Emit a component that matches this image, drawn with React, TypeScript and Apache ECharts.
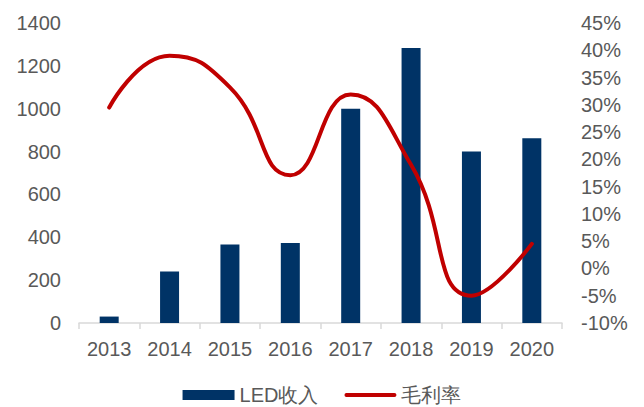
import React, { useEffect, useRef } from "react";
import * as echarts from "echarts";

const years = ["2013", "2014", "2015", "2016", "2017", "2018", "2019", "2020"];
const ledRevenue = [30, 240, 366, 373, 1000, 1283, 800, 862];
const grossMargin = [29.5, 39, 33.2, 17.1, 31.9, 19, -5, 4.5];
const leftTicks = { min: 0, max: 1400, interval: 200 };
const rightTicks = { min: -10, max: 45, interval: 5 };

const FONT = "'Liberation Sans', Arial, sans-serif";
const TEXT = "#595959";

export default function App() {
  const ref = useRef<HTMLDivElement>(null);
  useEffect(() => {
    document.body.style.margin = "0";
    const chart = echarts.init(ref.current!, null, { renderer: "svg" });
    chart.setOption({
      animation: false,
      textStyle: { fontFamily: FONT },
      grid: { left: 79, right: 82, top: 23, bottom: 84 },
      legend: {
        top: 380,
        left: "center",
        itemWidth: 52,
        itemHeight: 10,
        itemGap: 26,
        symbolKeepAspect: true,
        textStyle: { fontFamily: FONT, fontSize: 20, color: TEXT },
        data: [
          { name: "LED收入", icon: "rect" },
          {
            name: "毛利率",
            icon: "path://M2,0 L50,0 A2,2 0 0 1 50,4 L2,4 A2,2 0 0 1 2,0 Z",
            itemStyle: { color: "#C00000" },
          },
        ],
      },
      xAxis: {
        type: "category",
        data: years,
        boundaryGap: true,
        axisLine: { lineStyle: { color: "#d9d9d9", width: 1.5 } },
        axisTick: { show: true, length: 6, lineStyle: { color: "#d9d9d9", width: 1.5 } },
        axisLabel: { color: TEXT, fontSize: 20, fontFamily: FONT, margin: 16 },
      },
      yAxis: [
        {
          type: "value",
          min: leftTicks.min,
          max: leftTicks.max,
          interval: leftTicks.interval,
          splitLine: { show: false },
          axisLine: { show: false },
          axisTick: { show: false },
          axisLabel: {
            color: TEXT,
            fontSize: 20,
            fontFamily: FONT,
            margin: 18,
            formatter: (v: number) => `${v}`,
          },
        },
        {
          type: "value",
          min: rightTicks.min,
          max: rightTicks.max,
          interval: rightTicks.interval,
          splitLine: { show: false },
          axisLine: { show: false },
          axisTick: { show: false },
          axisLabel: {
            color: TEXT,
            fontSize: 20,
            fontFamily: FONT,
            margin: 19,
            formatter: (v: number) => `${v}%`,
          },
        },
      ],
      series: [
        {
          name: "LED收入",
          type: "bar",
          data: ledRevenue,
          barWidth: 19,
          itemStyle: { color: "#003366" },
        },
        {
          name: "毛利率",
          type: "line",
          yAxisIndex: 1,
          data: grossMargin,
          smooth: 0.5,
          symbol: "none",
          lineStyle: { color: "#C00000", width: 4, cap: "round" },
          itemStyle: { color: "#C00000" },
        },
      ],
    });
    return () => chart.dispose();
  }, []);
  return (
    <div
      ref={ref}
      style={{ position: "absolute", left: 0, top: 0, width: 644, height: 407 }}
    />
  );
}
